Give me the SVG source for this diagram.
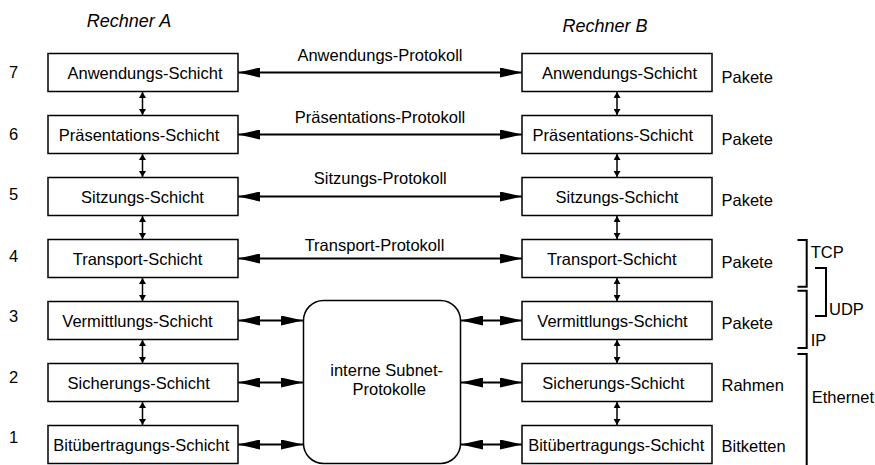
<svg xmlns="http://www.w3.org/2000/svg" width="875" height="465" viewBox="0 0 875 465">
  <style>
    text { font-family: "Liberation Sans", Arial, sans-serif; font-size: 16.5px; fill: #000; }
    .mid { text-anchor: middle; }
    .title { font-size: 18px; font-style: italic; }
    .box { fill: #fff; stroke: #000; stroke-width: 1.5; }
    .proto { stroke: #000; stroke-width: 2; fill: none; marker-start: url(#bigHead); marker-end: url(#bigHead); }
    .stack { stroke: #000; stroke-width: 1.5; fill: none; marker-start: url(#smallHead); marker-end: url(#smallHead); }
    .brace { stroke: #000; stroke-width: 2; fill: none; }
  </style>
  <defs>
    <marker id="bigHead" markerUnits="userSpaceOnUse" markerWidth="22" markerHeight="10" refX="22" refY="5" orient="auto-start-reverse">
      <path d="M0,0 L22,5 L0,10 z" fill="#000"/>
    </marker>
    <marker id="smallHead" markerUnits="userSpaceOnUse" markerWidth="6" markerHeight="7" refX="6" refY="3.5" orient="auto-start-reverse">
      <path d="M0,0 L6,3.5 L0,7 z" fill="#000"/>
    </marker>
  </defs>

  <!-- column titles -->
  <text class="title mid" x="129" y="27">Rechner A</text>
  <text class="title mid" x="605" y="32">Rechner B</text>

  <!-- layer numbers -->
  <g id="layer-numbers">
    <text x="9" y="78">7</text>
    <text x="9" y="140">6</text>
    <text x="9" y="200">5</text>
    <text x="9" y="262">4</text>
    <text x="9" y="322">3</text>
    <text x="9" y="383">2</text>
    <text x="9" y="443">1</text>
  </g>

  <!-- host A stack -->
  <g id="a7"><rect class="box" x="48" y="53.5" width="190" height="38"/><text class="mid" x="145" y="79">Anwendungs-Schicht</text></g>
  <g id="a6"><rect class="box" x="48" y="115.5" width="190" height="38"/><text class="mid" x="139" y="141">Präsentations-Schicht</text></g>
  <g id="a5"><rect class="box" x="48" y="177.5" width="190" height="38"/><text class="mid" x="142.5" y="203">Sitzungs-Schicht</text></g>
  <g id="a4"><rect class="box" x="48" y="239.5" width="190" height="38"/><text class="mid" x="137.5" y="265">Transport-Schicht</text></g>
  <g id="a3"><rect class="box" x="48" y="301.5" width="190" height="38"/><text class="mid" x="137.5" y="327">Vermittlungs-Schicht</text></g>
  <g id="a2"><rect class="box" x="48" y="363.5" width="190" height="38"/><text class="mid" x="138.7" y="389">Sicherungs-Schicht</text></g>
  <g id="a1"><rect class="box" x="48" y="425.5" width="190" height="38"/><text class="mid" x="141.3" y="451">Bitübertragungs-Schicht</text></g>

  <!-- host B stack -->
  <g id="b7"><rect class="box" x="522" y="53.5" width="190" height="38"/><text class="mid" x="619.5" y="79">Anwendungs-Schicht</text></g>
  <g id="b6"><rect class="box" x="522" y="115.5" width="190" height="38"/><text class="mid" x="612.8" y="141">Präsentations-Schicht</text></g>
  <g id="b5"><rect class="box" x="522" y="177.5" width="190" height="38"/><text class="mid" x="617" y="203">Sitzungs-Schicht</text></g>
  <g id="b4"><rect class="box" x="522" y="239.5" width="190" height="38"/><text class="mid" x="611.7" y="265">Transport-Schicht</text></g>
  <g id="b3"><rect class="box" x="522" y="301.5" width="190" height="38"/><text class="mid" x="612.5" y="327">Vermittlungs-Schicht</text></g>
  <g id="b2"><rect class="box" x="522" y="363.5" width="190" height="38"/><text class="mid" x="613.3" y="389">Sicherungs-Schicht</text></g>
  <g id="b1"><rect class="box" x="522" y="425.5" width="190" height="38"/><text class="mid" x="616.2" y="451">Bitübertragungs-Schicht</text></g>

  <!-- subnet -->
  <g id="subnet">
    <rect class="box" x="303.5" y="300.5" width="157" height="163" rx="20" ry="20"/>
    <text class="mid" x="386.7" y="376">interne Subnet-</text>
    <text class="mid" x="389.3" y="395">Protokolle</text>
  </g>

  <!-- connectors -->
  <g id="connectors">
    <!-- peer protocols -->
    <line class="proto" x1="238" y1="72.5" x2="522" y2="72.5"/>
    <line class="proto" x1="238" y1="134.5" x2="522" y2="134.5"/>
    <line class="proto" x1="238" y1="196.5" x2="522" y2="196.5"/>
    <line class="proto" x1="238" y1="258.5" x2="522" y2="258.5"/>
    <!-- to and from the subnet -->
    <line class="proto" x1="238" y1="320.5" x2="303" y2="320.5"/>
    <line class="proto" x1="238" y1="382.5" x2="303" y2="382.5"/>
    <line class="proto" x1="238" y1="444.5" x2="303" y2="444.5"/>
    <line class="proto" x1="461" y1="320.5" x2="522" y2="320.5"/>
    <line class="proto" x1="461" y1="382.5" x2="522" y2="382.5"/>
    <line class="proto" x1="461" y1="444.5" x2="522" y2="444.5"/>
    <!-- within each stack -->
    <line class="stack" x1="142.5" y1="92" x2="142.5" y2="115"/>
    <line class="stack" x1="142.5" y1="154" x2="142.5" y2="177"/>
    <line class="stack" x1="142.5" y1="216" x2="142.5" y2="239"/>
    <line class="stack" x1="142.5" y1="278" x2="142.5" y2="301"/>
    <line class="stack" x1="142.5" y1="340" x2="142.5" y2="363"/>
    <line class="stack" x1="142.5" y1="402" x2="142.5" y2="425"/>
    <line class="stack" x1="617" y1="92" x2="617" y2="115"/>
    <line class="stack" x1="617" y1="154" x2="617" y2="177"/>
    <line class="stack" x1="617" y1="216" x2="617" y2="239"/>
    <line class="stack" x1="617" y1="278" x2="617" y2="301"/>
    <line class="stack" x1="617" y1="340" x2="617" y2="363"/>
    <line class="stack" x1="617" y1="402" x2="617" y2="425"/>
  </g>

  <!-- protocol labels -->
  <text class="mid" x="380" y="60.5">Anwendungs-Protokoll</text>
  <text class="mid" x="380" y="122.5">Präsentations-Protokoll</text>
  <text class="mid" x="380.3" y="184">Sitzungs-Protokoll</text>
  <text class="mid" x="374.5" y="250.5">Transport-Protokoll</text>

  <!-- data units -->
  <g id="units">
    <text x="721.5" y="83">Pakete</text>
    <text x="721.5" y="145">Pakete</text>
    <text x="721.5" y="206">Pakete</text>
    <text x="721.5" y="268">Pakete</text>
    <text x="721.5" y="329">Pakete</text>
    <text x="721.5" y="391">Rahmen</text>
    <text x="721.5" y="452">Bitketten</text>
  </g>

  <!-- protocol brackets -->
  <g id="brackets">
    <path class="brace" d="M797.5,240 H806.7 V286.7 H797.5"/>
    <path class="brace" d="M815,268 H826 V316 H815"/>
    <path class="brace" d="M797.5,290.8 H806.7 V348 H797.5"/>
    <path class="brace" d="M797.5,354 H806.7 V465"/>
    <text x="810.7" y="258">TCP</text>
    <text x="829" y="315">UDP</text>
    <text x="810.7" y="346">IP</text>
    <text x="811.7" y="403">Ethernet</text>
  </g>
</svg>
